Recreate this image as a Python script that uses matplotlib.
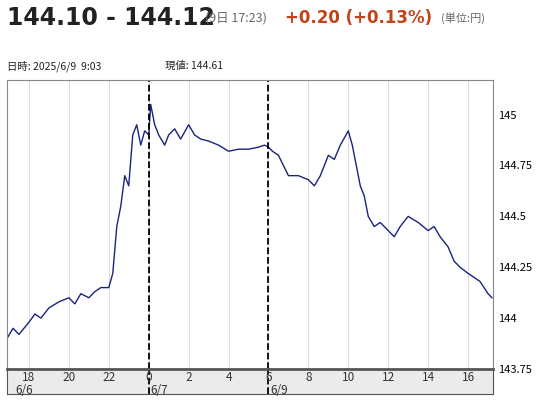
import matplotlib.pyplot as plt
import numpy as np

plt.rcParams['font.family'] = ['Noto Sans CJK JP', 'DejaVu Sans']

# hours on a continuous axis: 24 = 0:00 6/7, 30 = 6:00 6/9
hours = [16.9, 17.2, 17.5, 18.0, 18.3, 18.6, 19.0, 19.5, 20.0, 20.3, 20.6, 21.0, 21.3, 21.6, 22.0,
         22.2, 22.4, 22.6, 22.8, 23.0, 23.2, 23.4, 23.6, 23.8, 24.0, 24.1, 24.3, 24.5, 24.8, 25.0,
         25.3, 25.6, 26.0, 26.3, 26.6, 27.0, 27.5, 28.0, 28.5, 29.0, 29.5, 29.8, 30.0, 30.2, 30.5,
         31.0, 31.5, 32.0, 32.3, 32.6, 33.0, 33.3, 33.6, 34.0, 34.2, 34.4, 34.6, 34.8, 35.0, 35.3,
         35.6, 36.0, 36.3, 36.6, 37.0, 37.5, 38.0, 38.3, 38.6, 39.0, 39.3, 39.6, 40.0, 40.3, 40.6,
         41.0, 41.2]
prices = [143.90, 143.95, 143.92, 143.98, 144.02, 144.00, 144.05, 144.08, 144.10, 144.07, 144.12,
          144.10, 144.13, 144.15, 144.15, 144.22, 144.45, 144.55, 144.70, 144.65, 144.90, 144.95,
          144.85, 144.92, 144.90, 145.05, 144.95, 144.90, 144.85, 144.90, 144.93, 144.88, 144.95,
          144.90, 144.88, 144.87, 144.85, 144.82, 144.83, 144.83, 144.84, 144.85, 144.84, 144.82,
          144.80, 144.70, 144.70, 144.68, 144.65, 144.70, 144.80, 144.78, 144.85, 144.92, 144.85,
          144.75, 144.65, 144.60, 144.50, 144.45, 144.47, 144.43, 144.40, 144.45, 144.50, 144.47,
          144.43, 144.45, 144.40, 144.35, 144.28, 144.25, 144.22, 144.20, 144.18, 144.12, 144.10]

tick_pos = [18, 20, 22, 24, 26, 28, 30, 32, 34, 36, 38, 40]
tick_labels = ['18', '20', '22', '0', '2', '4', '6', '8', '10', '12', '14', '16']
day_labels = [(17.3, '6/6'), (24.1, '6/7'), (30.1, '6/9')]
y_ticks = [143.75, 144, 144.25, 144.5, 144.75, 145]
y_labels = ['143.75', '144', '144.25', '144.5', '144.75', '145']
day_breaks = [24, 30]

fig = plt.figure(figsize=(5.48, 4.0), dpi=100)
ax = fig.add_axes([7/548, 1 - 369/400, 486/548, 289/400])
band = fig.add_axes([7/548, 1 - 394/400, 486/548, 25/400])

xmin, xmax = 16.9, 41.25
ax.plot(hours, prices, color='#1a237e', lw=1.0)
ax.set_xlim(xmin, xmax)
ax.set_ylim(143.75, 145.17)
for t in tick_pos:
    ax.axvline(t, color='#dddddd', lw=0.8, zorder=0)
for b in day_breaks:
    ax.axvline(b, color='black', ls='--', lw=1.3)
ax.set_xticks([])
ax.yaxis.tick_right()
ax.set_yticks(y_ticks)
ax.set_yticklabels(y_labels, fontsize=8)
ax.tick_params(axis='y', length=0, pad=4)
for s in ax.spines.values():
    s.set_color('#888888')

band.set_facecolor('#ebebeb')
band.set_xlim(xmin, xmax)
band.set_ylim(0, 1)
band.set_xticks([]); band.set_yticks([])
for s in band.spines.values():
    s.set_color('#555555')
band.spines['top'].set_linewidth(2)
for b in day_breaks:
    band.axvline(b, color='black', ls='--', lw=1.3)
for t, lab in zip(tick_pos, tick_labels):
    band.text(t, 0.65, lab, ha='center', va='center', fontsize=8.5, color='#333333')
for t, lab in day_labels:
    band.text(t, 0.15, lab, ha='left', va='center', fontsize=8.5, color='#333333')

fig.text(7/548, 1 - 18/400, '144.10 - 144.12', fontsize=17, fontweight='bold', color='#222222',
         va='center', family='DejaVu Sans')
fig.text(205/548, 1 - 18/400, '(9日 17:23)', fontsize=9, color='#666666', va='center')
fig.text(285/548, 1 - 18/400, '+0.20 (+0.13%)', fontsize=12, fontweight='bold', color='#c0441a',
         va='center', family='DejaVu Sans')
fig.text(441/548, 1 - 18/400, '(単位:円)', fontsize=8, color='#666666', va='center')
fig.text(7/548, 1 - 66/400, '日時: 2025/6/9  9:03', fontsize=7.5, color='#222222', va='center')
fig.text(165/548, 1 - 66/400, '現値: 144.61', fontsize=7.5, color='#222222', va='center')

fig.savefig('out.png', dpi=100)
